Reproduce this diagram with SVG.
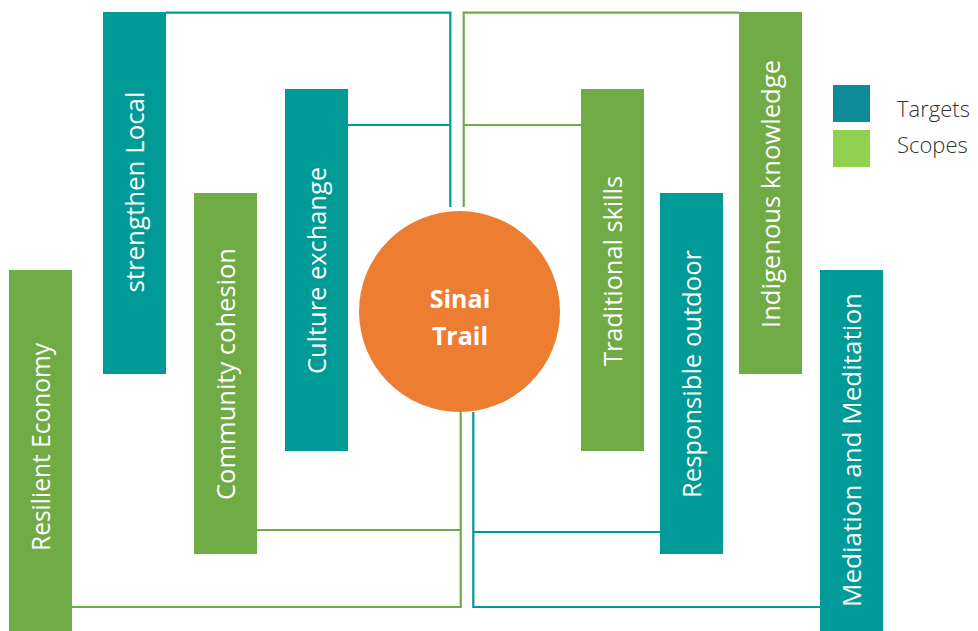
<svg xmlns="http://www.w3.org/2000/svg" width="978" height="631" viewBox="0 0 978 631">
<style>
.teal{fill:#009A97}
.green{fill:#70AB46}
.lbl{fill:#FFFFFF;font-family:"Open Sans","Liberation Sans",sans-serif;font-size:25px;text-anchor:middle}
.ct{fill:none;stroke:#009A97;stroke-width:2.2}
.cg{fill:none;stroke:#70AB46;stroke-width:2.2}
.leg{fill:#333333;font-family:"Open Sans","Liberation Sans",sans-serif;font-size:22px;font-weight:300}
.hub{fill:#FFFFFF;font-family:"Open Sans","Liberation Sans",sans-serif;font-size:25px;font-weight:bold;text-anchor:middle}
</style>
<rect width="978" height="631" fill="#FFFFFF"/>
<g id="connectors">
<path class="ct" d="M166,12.7 H450.3 V207"/>
<path class="ct" d="M348,125 H450.3"/>
<path class="cg" d="M739,12.7 H463.7 V207"/>
<path class="cg" d="M581,125 H463.7"/>
<path class="cg" d="M257,530 H460.7"/>
<path class="cg" d="M72,607 H460.7 V412"/>
<path class="ct" d="M660,532 H473.3"/>
<path class="ct" d="M820,607 H473.3 V412"/>
</g>
<g id="resilient-economy">
<rect class="green" x="9" y="270" width="63" height="361"/>
<text class="lbl" transform="translate(49.5,447) rotate(-90)" textLength="208" lengthAdjust="spacingAndGlyphs">Resilient Economy</text>
</g>
<g id="strengthen-local">
<rect class="teal" x="103" y="12" width="63" height="362"/>
<text class="lbl" transform="translate(143.5,192) rotate(-90)" textLength="201" lengthAdjust="spacingAndGlyphs">strengthen Local</text>
</g>
<g id="community-cohesion">
<rect class="green" x="194" y="193" width="63" height="361"/>
<text class="lbl" transform="translate(234.5,374) rotate(-90)" textLength="252" lengthAdjust="spacingAndGlyphs">Community cohesion</text>
</g>
<g id="culture-exchange">
<rect class="teal" x="285" y="89" width="63" height="362"/>
<text class="lbl" transform="translate(325.5,270.5) rotate(-90)" textLength="207" lengthAdjust="spacingAndGlyphs">Culture exchange</text>
</g>
<g id="sinai-trail">
<circle cx="459.5" cy="311.5" r="100.5" fill="#ED7D31"/>
<text class="hub" x="460" y="308">Sinai</text>
<text class="hub" x="460" y="345">Trail</text>
</g>
<g id="traditional-skills">
<rect class="green" x="581" y="89" width="63" height="362"/>
<text class="lbl" transform="translate(621.5,271) rotate(-90)" textLength="190" lengthAdjust="spacingAndGlyphs">Traditional skills</text>
</g>
<g id="responsible-outdoor">
<rect class="teal" x="660" y="193" width="63" height="361"/>
<text class="lbl" transform="translate(700.5,374) rotate(-90)" textLength="248" lengthAdjust="spacingAndGlyphs">Responsible outdoor</text>
</g>
<g id="indigenous-knowledge">
<rect class="green" x="739" y="12" width="63" height="362"/>
<text class="lbl" transform="translate(779.5,194) rotate(-90)" textLength="268" lengthAdjust="spacingAndGlyphs">Indigenous knowledge</text>
</g>
<g id="mediation-meditation">
<rect class="teal" x="820" y="270" width="63" height="361"/>
<text class="lbl" transform="translate(860.5,450) rotate(-90)" textLength="314" lengthAdjust="spacingAndGlyphs">Mediation and Meditation</text>
</g>
<g id="legend">
<rect x="833" y="85" width="37" height="37" fill="#0E8A99"/>
<rect x="833" y="130" width="37" height="37" fill="#92D050"/>
<text class="leg" x="897" y="117">Targets</text>
<text class="leg" x="897" y="153">Scopes</text>
</g>
</svg>
